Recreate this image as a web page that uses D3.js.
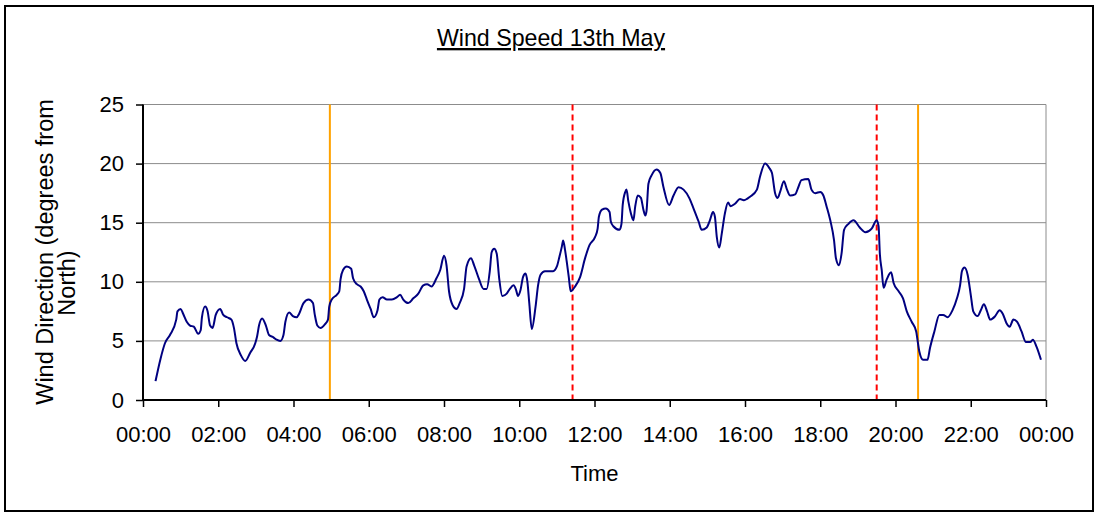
<!DOCTYPE html>
<html>
<head>
<meta charset="utf-8">
<script src="https://cdn.jsdelivr.net/npm/d3@7"></script>
<style>
  html, body { margin: 0; padding: 0; background: #fff; }
  svg { display: block; font-family: "Liberation Sans", Arial, sans-serif; }
</style>
</head>
<body>
<svg id="chart" width="1096" height="513"></svg>
<script>
// ---- data ----
const times = ["00:20","00:28","00:35","00:43","00:53","00:55","01:00","01:04","01:10","01:15",
"01:21","01:28","01:32","01:34","01:39","01:43","01:47","01:51","01:56","02:03",
"02:08","02:14","02:21","02:25","02:29","02:36","02:43","02:51","02:59","03:02",
"03:05","03:10","03:16","03:21","03:28","03:33","03:39","03:44","03:47","03:53",
"03:59","04:05","04:09","04:16","04:24","04:31","04:34","04:38","04:43","04:50",
"04:55","04:57","05:01","05:09","05:13","05:15","05:19","05:25","05:32","05:35",
"05:41","05:47","05:52","05:57","06:03","06:08","06:14","06:17","06:22","06:29",
"06:37","06:45","06:50","06:55","07:03","07:11","07:19","07:27","07:33","07:40",
"07:48","07:54","08:00","08:04","08:08","08:14","08:20","08:25","08:32","08:36",
"08:43","08:48","08:56","09:03","09:08","09:13","09:16","09:20","09:24","09:28",
"09:33","09:40","09:45","09:51","09:55","09:58","10:02","10:06","10:10","10:13",
"10:16","10:20","10:26","10:30","10:34","10:41","10:54","11:00","11:04","11:08",
"11:10","11:13","11:16","11:19","11:22","11:29","11:37","11:45","11:52","12:01",
"12:05","12:07","12:12","12:18","12:24","12:26","12:30","12:40","12:43","12:45",
"12:49","12:51","12:54","12:58","13:02","13:05","13:09","13:14","13:18","13:21",
"13:23","13:26","13:31","13:39","13:45","13:50","13:59","14:06","14:14","14:22",
"14:31","14:38","14:46","14:51","14:59","15:04","15:09","15:12","15:15","15:19",
"15:23","15:28","15:33","15:37","15:44","15:52","15:58","16:08","16:19","16:24",
"16:32","16:39","16:43","16:48","16:52","16:56","17:02","17:07","17:12","17:20",
"17:25","17:30","17:41","17:46","17:52","18:00","18:05","18:10","18:16","18:22",
"18:25","18:30","18:34","18:38","18:45","18:53","19:03","19:12","19:22","19:30",
"19:33","19:35","19:38","19:41","19:46","19:53","19:57","20:05","20:12","20:18",
"20:26","20:33","20:35","20:38","20:44","20:51","20:55","21:02","21:10","21:16",
"21:23","21:31","21:38","21:43","21:46","21:50","21:55","22:00","22:04","22:11",
"22:16","22:21","22:26","22:31","22:39","22:46","22:51","22:57","23:02","23:08",
"23:14","23:21","23:28","23:35","23:39","23:45","23:52"];

const windValues = [1.6,3.5,4.8,5.5,6.8,7.5,7.7,7.3,6.6,6.3,
6.2,5.6,5.9,7.0,7.9,7.5,6.3,6.1,7.2,7.7,
7.2,7.0,6.8,6.1,4.8,3.8,3.3,4.0,4.8,5.4,
6.3,6.9,6.3,5.5,5.3,5.1,5.0,5.5,6.6,7.4,
7.1,7.0,7.3,8.2,8.5,8.2,7.2,6.3,6.1,6.4,
6.8,7.9,8.5,8.9,9.2,10.2,11.0,11.3,11.1,10.3,
9.8,9.6,9.2,8.5,7.7,7.0,7.6,8.5,8.7,8.5,
8.5,8.7,8.9,8.5,8.2,8.6,9.0,9.7,9.8,9.6,
10.3,11.0,12.2,11.4,9.2,8.0,7.7,8.2,9.4,11.3,
12.0,11.4,10.2,9.4,9.4,10.9,12.5,12.8,12.4,10.3,
8.8,9.0,9.4,9.7,9.3,8.8,9.3,10.4,10.7,10.0,
8.2,6.0,7.9,9.7,10.6,10.9,10.9,11.3,12.1,13.0,
13.5,12.7,11.6,10.4,9.2,9.6,10.4,12.0,13.1,13.8,
14.5,15.5,16.1,16.2,15.9,15.1,14.7,14.4,14.9,16.5,
17.6,17.8,16.8,15.8,15.2,16.4,17.3,17.1,16.1,15.6,
16.0,18.3,19.0,19.5,19.2,18.0,16.5,17.3,18.0,17.8,
17.1,16.2,15.1,14.4,14.6,15.2,15.9,15.5,13.8,12.9,
14.1,15.8,16.7,16.4,16.6,17.0,16.9,17.2,17.8,18.9,
20.0,19.6,19.2,17.5,17.1,17.6,18.5,17.8,17.3,17.4,
18.0,18.6,18.7,17.8,17.5,17.6,17.3,16.4,15.2,13.5,
12.0,11.4,12.4,14.4,14.9,15.2,14.6,14.2,14.5,15.2,
14.7,12.4,11.0,9.5,10.2,10.8,9.9,9.2,8.6,7.5,
6.6,5.8,5.1,4.1,3.4,3.4,4.4,5.8,7.2,7.2,
7.0,7.6,8.6,9.7,10.9,11.2,10.6,8.9,7.5,7.1,
7.6,8.1,7.5,6.8,7.1,7.6,7.3,6.5,6.2,6.8,
6.6,5.8,4.9,4.9,5.1,4.5,3.4];

const solidMarkers = ["04:58", "20:36"];   // orange solid lines
const dashedMarkers = ["11:25", "19:30"];  // red dashed lines
const yTicks = [0, 5, 10, 15, 20, 25];

const titleText = "Wind Speed 13th May";
const xLabel = "Time";
const yLabelLines = ["Wind Direction (degrees from", "North)"];

// ---- helpers ----
const parse = s => { const [h, m] = s.split(":").map(Number); return new Date(Date.UTC(2008, 4, 13, h, m)); };
const data = times.map((t, i) => ({ t: parse(t), v: windValues[i] }));

const plot = { left: 143, right: 1046, top: 104.5, bottom: 400 };

const svg = d3.select("#chart");

// outer chart border
svg.append("rect")
  .attr("x", 5).attr("y", 6).attr("width", 1088).attr("height", 505)
  .attr("fill", "#fff").attr("stroke", "#000").attr("stroke-width", 2);

const x = d3.scaleUtc()
  .domain([new Date(Date.UTC(2008, 4, 13, 0, 0)), new Date(Date.UTC(2008, 4, 14, 0, 0))])
  .range([plot.left, plot.right]);
const y = d3.scaleLinear().domain([0, 25]).range([plot.bottom, plot.top]);

// gridlines
svg.append("g").selectAll("line").data(yTicks.filter(d => d > 0)).join("line")
  .attr("x1", plot.left).attr("x2", plot.right)
  .attr("y1", d => y(d)).attr("y2", d => y(d))
  .attr("stroke", "#8c8c8c").attr("stroke-width", 1);
// right plot border
svg.append("line")
  .attr("x1", plot.right).attr("x2", plot.right).attr("y1", plot.top).attr("y2", plot.bottom)
  .attr("stroke", "#8c8c8c").attr("stroke-width", 1);

// marker lines
svg.append("g").selectAll("line").data(solidMarkers).join("line")
  .attr("x1", d => x(parse(d))).attr("x2", d => x(parse(d)))
  .attr("y1", plot.top).attr("y2", plot.bottom)
  .attr("stroke", "#FFA200").attr("stroke-width", 2);
svg.append("g").selectAll("line").data(dashedMarkers).join("line")
  .attr("x1", d => x(parse(d))).attr("x2", d => x(parse(d)))
  .attr("y1", plot.top).attr("y2", plot.bottom)
  .attr("stroke", "#FF0000").attr("stroke-width", 2).attr("stroke-dasharray", "6,4");

// data line
const line = d3.line().x(d => x(d.t)).y(d => y(d.v)).curve(d3.curveMonotoneX);
svg.append("path").datum(data)
  .attr("d", line).attr("fill", "none")
  .attr("stroke", "#000080").attr("stroke-width", 2).attr("stroke-linejoin", "round");

// axes
const xAxis = d3.axisBottom(x).ticks(d3.utcHour.every(2)).tickFormat(d3.utcFormat("%H:%M"))
  .tickSize(7).tickPadding(19);
const gx = svg.append("g").attr("transform", `translate(0,${plot.bottom})`).call(xAxis);
gx.select(".domain").attr("stroke", "#000").attr("stroke-width", 2).attr("d", `M${plot.left},0H${plot.right}`);
gx.selectAll(".tick line").attr("stroke", "#000").attr("stroke-width", 1.5);
gx.selectAll(".tick text").attr("font-size", 22).attr("fill", "#000")
  .attr("font-family", "'Liberation Sans', Arial, sans-serif");

const yAxis = d3.axisLeft(y).tickValues(yTicks).tickSize(7).tickPadding(12);
const gy = svg.append("g").attr("transform", `translate(${plot.left},0)`).call(yAxis);
gy.select(".domain").attr("stroke", "#000").attr("stroke-width", 2).attr("d", `M0,${plot.top}V${plot.bottom}`);
gy.selectAll(".tick line").attr("stroke", "#000").attr("stroke-width", 1.5);
gy.selectAll(".tick text").attr("font-size", 22).attr("fill", "#000")
  .attr("font-family", "'Liberation Sans', Arial, sans-serif");

// title (underlined)
svg.append("text")
  .attr("x", 551).attr("y", 46).attr("text-anchor", "middle")
  .attr("font-size", 23.2).attr("text-decoration", "underline").attr("fill", "#000")
  .text(titleText);

// x label
svg.append("text")
  .attr("x", (plot.left + plot.right) / 2).attr("y", 481).attr("text-anchor", "middle")
  .attr("font-size", 22).attr("fill", "#000").text(xLabel);

// y label (two lines, rotated)
const yl = svg.append("text")
  .attr("transform", `translate(53,252) rotate(-90)`)
  .attr("text-anchor", "middle").attr("font-size", 23.5).attr("fill", "#000");
yl.append("tspan").attr("x", 0).attr("y", 0).text(yLabelLines[0]);
yl.append("tspan").attr("x", -31).attr("y", 22).text(yLabelLines[1]);
</script>
</body>
</html>
